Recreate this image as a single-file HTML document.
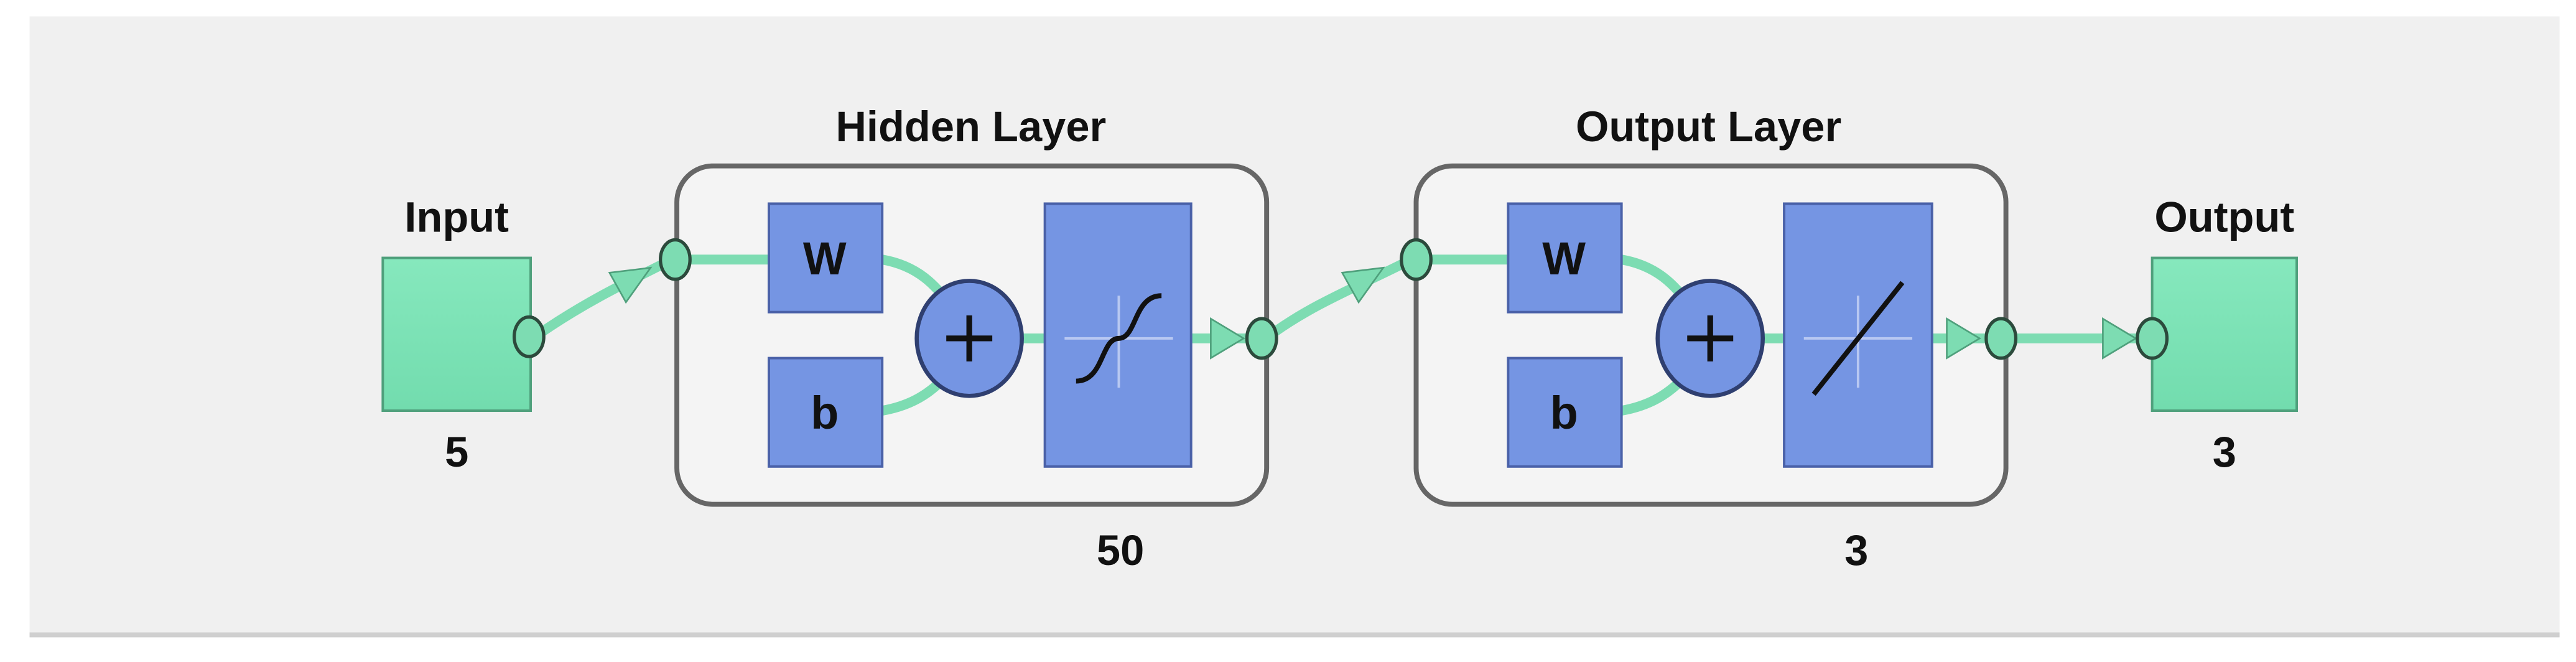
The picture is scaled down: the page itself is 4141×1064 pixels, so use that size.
<!DOCTYPE html>
<html><head><meta charset="utf-8"><style>
html,body{margin:0;padding:0;background:#fff;width:4141px;height:1064px;overflow:hidden}
svg{display:block}
text{font-family:"Liberation Sans","DejaVu Sans",sans-serif;font-weight:bold;fill:#111}
</style></head><body>
<svg width="4141" height="1064" viewBox="0 0 1568 403" preserveAspectRatio="none">
<defs>
<linearGradient id="grn" x1="0" y1="0" x2="0" y2="1"><stop offset="0" stop-color="#86e8bd"/><stop offset="1" stop-color="#72dcae"/></linearGradient>
</defs>
<rect x="0" y="0" width="1568" height="403" fill="#fff"/>
<rect x="18" y="10" width="1540" height="376" fill="#f0f0f0"/>
<rect x="18" y="385" width="1540" height="3" fill="#cfcfcf"/>

<!-- Labels -->
<text x="278" y="141" font-size="26" text-anchor="middle">Input</text>
<text x="278" y="284" font-size="26" text-anchor="middle">5</text>
<text x="591" y="86" font-size="26" text-anchor="middle">Hidden Layer</text>
<text x="682" y="344" font-size="26" text-anchor="middle">50</text>
<text x="1040" y="86" font-size="26" text-anchor="middle">Output Layer</text>
<text x="1130" y="344" font-size="26" text-anchor="middle">3</text>
<text x="1354" y="141" font-size="26" text-anchor="middle">Output</text>
<text x="1354" y="284" font-size="26" text-anchor="middle">3</text>

<!-- Layer boxes -->
<rect x="412" y="101" width="359" height="206" rx="22" fill="#f4f4f4" stroke="#666" stroke-width="3"/>
<rect x="862" y="101" width="359" height="206" rx="22" fill="#f4f4f4" stroke="#666" stroke-width="3"/>

<!-- Input box -->
<rect x="233" y="157" width="90" height="93" fill="url(#grn)" stroke="#4fa07c" stroke-width="1.5"/>
<rect x="1310" y="157" width="88" height="93" fill="url(#grn)" stroke="#4fa07c" stroke-width="1.5"/>

<!-- connectors -->
<g stroke="#7ddcb2" stroke-width="6" fill="none" stroke-linecap="round">
<path d="M330,202 C355,185 375,175 405,160"/>
<path d="M776,202 C800,185 825,175 855,160"/>
<path d="M420,158 L470,158"/>
<path d="M870,158 L920,158"/>
<path d="M537,158 C560,162 570,175 578,185"/>
<path d="M987,158 C1010,162 1020,175 1028,185"/>
<path d="M537,250 C560,246 570,235 578,227"/>
<path d="M987,250 C1010,246 1020,235 1028,227"/>
<path d="M622,206 L636,206"/>
<path d="M1073,206 L1086,206"/>
<path d="M725,206 L762,206"/>
<path d="M1176,206 L1212,206"/>
<path d="M1226,206 L1300,206"/>
</g>
<g fill="#7ddcb2" stroke="#4fa07c" stroke-width="1">
<polygon points="371,166 396,163 381,184"/>
<polygon points="817,166 842,163 827,184"/>
<polygon points="737,194 757,206 737,218"/>
<polygon points="1185,194 1205,206 1185,218"/>
<polygon points="1280,194 1300,206 1280,218"/>
</g>
<!-- circles -->
<g fill="#7ddcb2" stroke="#2c4a3c" stroke-width="2">
<ellipse cx="322" cy="205" rx="9" ry="12"/>
<ellipse cx="411" cy="158" rx="9" ry="12"/>
<ellipse cx="768" cy="206" rx="9" ry="12"/>
<ellipse cx="862" cy="158" rx="9" ry="12"/>
<ellipse cx="1218" cy="206" rx="9" ry="12"/>
<ellipse cx="1310" cy="206" rx="9" ry="12"/>
</g>

<!-- blue boxes -->
<g fill="#7595e3" stroke="#4a61a8" stroke-width="1.5">
<rect x="468" y="124" width="69" height="66"/>
<rect x="468" y="218" width="69" height="66"/>
<rect x="636" y="124" width="89" height="160"/>
<rect x="918" y="124" width="69" height="66"/>
<rect x="918" y="218" width="69" height="66"/>
<rect x="1086" y="124" width="90" height="160"/>
<ellipse cx="590" cy="206" rx="32" ry="35" stroke="#2f3f70" stroke-width="2.5"/>
<ellipse cx="1041" cy="206" rx="32" ry="35" stroke="#2f3f70" stroke-width="2.5"/>
</g>
<text x="502" y="167" font-size="28" text-anchor="middle">W</text>
<text x="502" y="261" font-size="28" text-anchor="middle">b</text>
<text x="952" y="167" font-size="28" text-anchor="middle">W</text>
<text x="952" y="261" font-size="28" text-anchor="middle">b</text>
<g stroke="#111" stroke-width="3.5">
<line x1="576" y1="206" x2="604" y2="206"/><line x1="590" y1="192" x2="590" y2="220"/>
<line x1="1027" y1="206" x2="1055" y2="206"/><line x1="1041" y1="192" x2="1041" y2="220"/>
</g>
<g stroke="#b8c8f2" stroke-width="1.5">
<line x1="648" y1="206" x2="714" y2="206"/><line x1="681" y1="180" x2="681" y2="236"/>
<line x1="1098" y1="206" x2="1164" y2="206"/><line x1="1131" y1="180" x2="1131" y2="236"/>
</g>
<path d="M655,232 C672,232 670,206 681,206 C692,206 690,180 707,180" stroke="#111" stroke-width="3" fill="none"/>
<line x1="1104" y1="240" x2="1158" y2="172" stroke="#111" stroke-width="3"/>
</svg>
</body></html>
